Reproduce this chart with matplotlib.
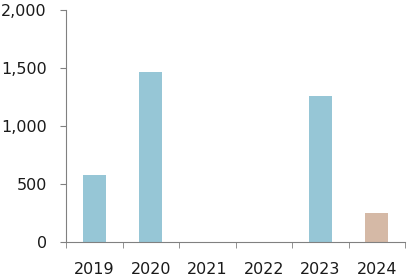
import numpy as np
import matplotlib.pyplot as plt
from matplotlib.ticker import FuncFormatter, FixedLocator

years = ["2019", "2020", "2021", "2022", "2023", "2024"]
values = [580, 1460, 0, 0, 1260, 245]
colors = ["#96c6d6", "#96c6d6", "#96c6d6", "#96c6d6", "#96c6d6", "#d5b9a6"]

fig = plt.figure(figsize=(4.08, 2.80), dpi=100)
ax = fig.add_axes([0.162, 0.136, 0.831, 0.829])

x = np.arange(len(years))
ax.bar(x, values, width=0.41, color=colors)

ax.set_xlim(-0.5, len(years) - 0.5)
ax.set_ylim(0, 2000)
ax.set_yticks([0, 500, 1000, 1500, 2000])
ax.yaxis.set_major_formatter(FuncFormatter(lambda v, p: f"{v:,.0f}"))

ax.set_xticks(x)
ax.set_xticklabels(years)
ax.xaxis.set_minor_locator(FixedLocator(np.arange(len(years) + 1) - 0.5))
ax.tick_params(axis="x", which="major", length=0, pad=14.5, labelsize=11.5,
               labelcolor="#1a1a1a")
ax.tick_params(axis="x", which="minor", length=4.5, color="#808080")
ax.tick_params(axis="y", length=4.5, color="#808080", pad=9.5, labelsize=11.5,
               labelcolor="#1a1a1a")

for side in ["top", "right"]:
    ax.spines[side].set_visible(False)
for side in ["left", "bottom"]:
    ax.spines[side].set_color("#808080")

fig.savefig("out.png", dpi=100)
